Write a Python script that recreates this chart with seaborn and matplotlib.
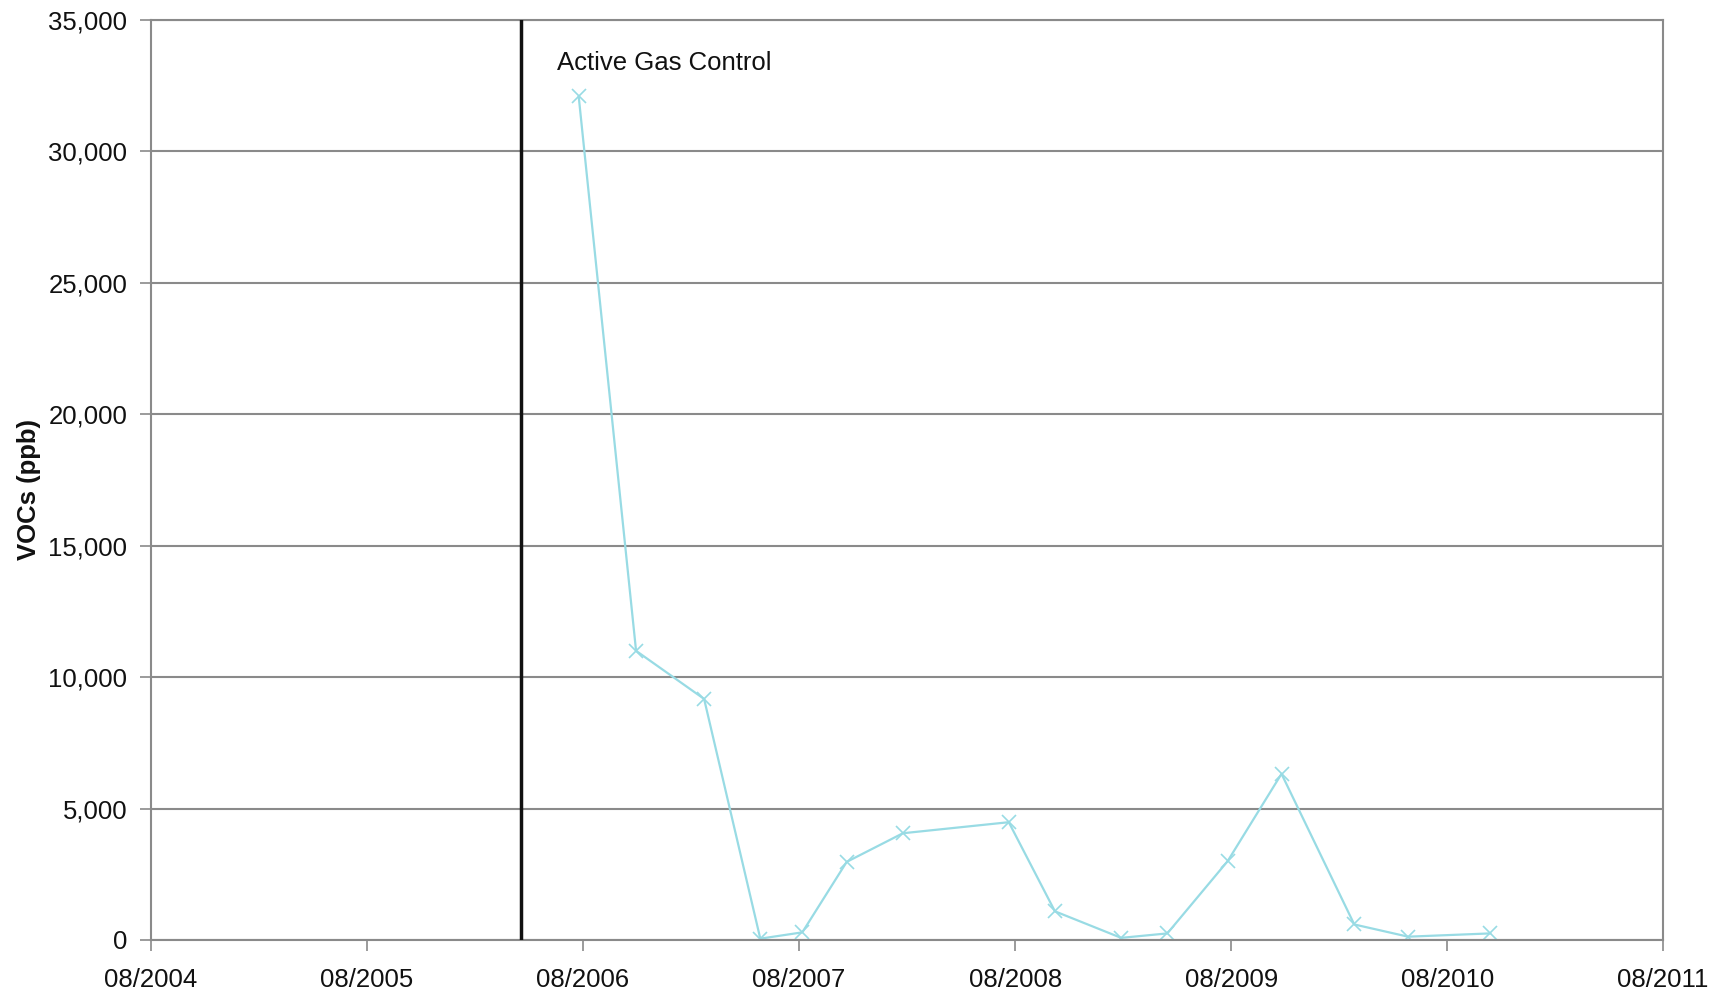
import pandas as pd
import seaborn as sns
import matplotlib.pyplot as plt
import matplotlib.dates as mdates

sample_dates = ['2006-07-25', '2006-10-30', '2007-02-22', '2007-05-28', '2007-08-07',
                '2007-10-21', '2008-01-24', '2008-07-21', '2008-10-07', '2009-01-27',
                '2009-04-15', '2009-07-26', '2009-10-25', '2010-02-25', '2010-05-27',
                '2010-10-13']
vocs = [32100, 11000, 9170, 50, 290, 2970, 4060, 4480, 1090, 80,
        250, 3000, 6320, 590, 125, 250]
control_date = '2006-04-18'
control_label = 'Active Gas Control'
tick_years = list(range(2004, 2012))

df = pd.DataFrame({'Date': pd.to_datetime(sample_dates), 'VOCs': vocs})

sns.set_theme(style='white')
plt.rcParams['font.family'] = ['Liberation Sans', 'DejaVu Sans']

fig = plt.figure(figsize=(17.27, 9.97), dpi=100)
ax = fig.add_axes([0.0874, 0.0572, 0.8756, 0.9228])

ax.set_axisbelow(True)
ax.yaxis.grid(True, color='#8a8a8a', linewidth=1.5)
ax.xaxis.grid(False)

sns.lineplot(data=df, x='Date', y='VOCs', ax=ax, color='#98dbe4', linewidth=1.6,
             marker='x', markersize=10, markeredgecolor='#98dbe4', markeredgewidth=1.2)

ax.axvline(pd.Timestamp(control_date), color='#111111', linewidth=2.5, zorder=3)
ax.text(pd.Timestamp('2006-06-18'), 33350, control_label, fontsize=18.5,
        va='center', ha='left', color='#111111')

ax.set_xlim(pd.Timestamp('2004-08-01'), pd.Timestamp('2011-08-01'))
ax.set_xticks([pd.Timestamp(f'{y}-08-01') for y in tick_years])
ax.xaxis.set_major_formatter(mdates.DateFormatter('%m/%Y'))
ax.set_ylim(0, 35000)
ax.set_yticks(range(0, 35001, 5000))
ax.yaxis.set_major_formatter(plt.FuncFormatter(lambda v, p: f'{int(v):,}'))

for s in ax.spines.values():
    s.set_color('#8a8a8a')
    s.set_linewidth(1.5)

ax.tick_params(axis='both', which='major', labelsize=18.5, length=8, width=1.2,
               color='#8a8a8a', labelcolor='#111111', direction='out')
ax.tick_params(axis='x', pad=12, bottom=True)
ax.tick_params(axis='y', pad=9, left=True)

ax.set_xlabel('')
ax.set_ylabel('VOCs (ppb)', fontsize=18.5, fontweight='bold', color='#111111')
ax.yaxis.set_label_coords(-0.073, 0.49)

plt.savefig('out.png', dpi=100)
plt.close()
